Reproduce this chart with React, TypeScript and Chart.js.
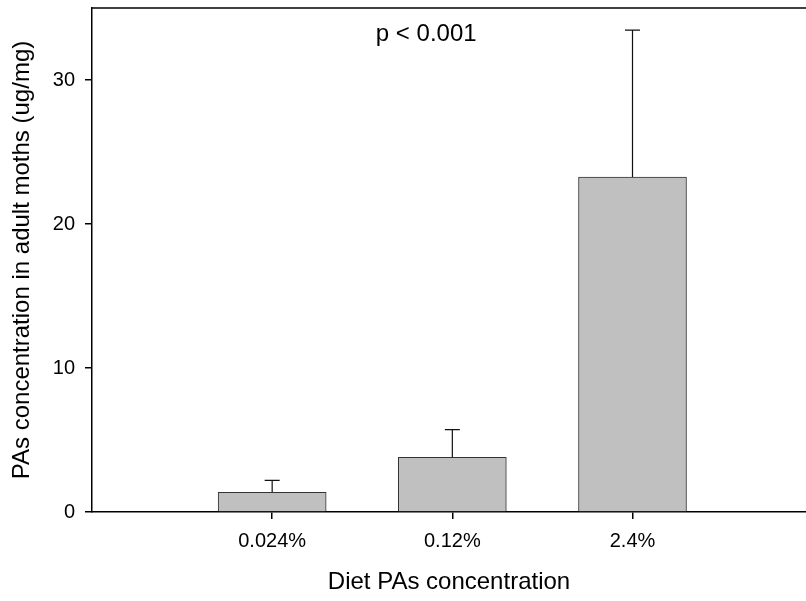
import React, { useEffect, useRef } from 'react';
import { Chart, registerables } from 'chart.js';

Chart.register(...registerables);

// ---- data ----
const categories = ['0.024%', '0.12%', '2.4%'];
const categoryPositions = [1, 2, 3];
const means = [1.37, 3.8, 23.26];
const upperErrors = [0.83, 1.92, 10.21];
const yTicks = [0, 10, 20, 30];
const yMin = 0;
const yMax = 35;
const xMin = 0;
const xMax = 3.963;
const annotationText = 'p < 0.001';
const annotationX = 1.855;
const annotationY = 32.7;

const FONT = '"Liberation Sans", Arial, Helvetica, sans-serif';

const errorBarPlugin = {
  id: 'errorBars',
  afterDatasetsDraw(chart: any) {
    const meta = chart.getDatasetMeta(0);
    const yScale = chart.scales.y;
    const ctx = chart.ctx;
    ctx.save();
    ctx.strokeStyle = '#111';
    ctx.lineWidth = 1.2;
    meta.data.forEach((bar: any, i: number) => {
      const top = yScale.getPixelForValue(means[i] + upperErrors[i]);
      const x = bar.x;
      ctx.beginPath();
      ctx.moveTo(x, bar.y);
      ctx.lineTo(x, top);
      ctx.moveTo(x - 7.5, top);
      ctx.lineTo(x + 7.5, top);
      ctx.stroke();
    });
    ctx.restore();
  },
};

const frameAndTextPlugin = {
  id: 'frameAndText',
  afterDraw(chart: any) {
    const { ctx, chartArea, scales } = chart;
    ctx.save();
    ctx.strokeStyle = '#000';
    ctx.lineWidth = 1.5;
    ctx.beginPath();
    ctx.moveTo(chartArea.left, chartArea.top);
    ctx.lineTo(chartArea.right, chartArea.top);
    ctx.stroke();
    ctx.fillStyle = '#000';
    ctx.font = `24px ${FONT}`;
    ctx.textAlign = 'center';
    ctx.textBaseline = 'alphabetic';
    ctx.fillText(
      annotationText,
      scales.x.getPixelForValue(annotationX),
      scales.y.getPixelForValue(annotationY)
    );
    ctx.restore();
  },
};

export default function App() {
  const canvasRef = useRef<HTMLCanvasElement | null>(null);

  useEffect(() => {
    document.body.style.margin = '0';
    const canvas = canvasRef.current;
    if (!canvas) return;
    const chart = new Chart(canvas, {
      type: 'bar',
      data: {
        datasets: [
          {
            data: categoryPositions.map((x, i) => ({ x, y: means[i] })),
            backgroundColor: '#c0c0c0',
            borderColor: '#333333',
            borderWidth: 1,
            barThickness: 108,
          },
        ],
      },
      options: {
        animation: false,
        responsive: false,
        maintainAspectRatio: false,
        layout: { padding: { top: 8, right: 0, bottom: 0, left: 0 } },
        plugins: {
          legend: { display: false },
          tooltip: { enabled: false },
          title: { display: false },
        },
        scales: {
          x: {
            type: 'linear',
            offset: false,
            min: xMin,
            max: xMax,
            afterBuildTicks: (scale: any) => {
              scale.ticks = categoryPositions.map((v) => ({ value: v }));
            },
            afterFit: (scale: any) => {
              scale.height = 89;
              scale.paddingLeft = 0;
              scale.paddingRight = 0;
            },
            ticks: {
              callback: (v: any) => {
                const idx = categoryPositions.indexOf(Number(v));
                return idx >= 0 ? categories[idx] : '';
              },
              font: { family: FONT, size: 20 },
              color: '#000',
              padding: 10,
              maxRotation: 0,
              autoSkip: false,
            },
            grid: {
              display: true,
              offset: false,
              drawOnChartArea: false,
              drawTicks: true,
              tickLength: 7,
              color: '#000',
              lineWidth: 1.5,
            },
            border: { display: true, color: '#000', width: 1.5 },
            title: {
              display: true,
              text: 'Diet PAs concentration',
              font: { family: FONT, size: 24 },
              color: '#000',
              padding: { top: 0, bottom: 4 },
            },
          },
          y: {
            type: 'linear',
            min: yMin,
            max: yMax,
            afterBuildTicks: (scale: any) => {
              scale.ticks = yTicks.map((v) => ({ value: v }));
            },
            afterFit: (scale: any) => {
              scale.width = 92;
              scale.paddingTop = 0;
              scale.paddingBottom = 0;
            },
            ticks: {
              font: { family: FONT, size: 20 },
              color: '#000',
              padding: 10,
            },
            grid: {
              display: true,
              drawOnChartArea: false,
              drawTicks: true,
              tickLength: 7,
              color: '#000',
              lineWidth: 1.5,
            },
            border: { display: true, color: '#000', width: 1.5 },
            title: {
              display: true,
              text: 'PAs concentration in adult moths (ug/mg)',
              font: { family: FONT, size: 24 },
              color: '#000',
              padding: { top: 8, bottom: 0 },
            },
          },
        },
      },
      plugins: [errorBarPlugin, frameAndTextPlugin],
    });
    return () => chart.destroy();
  }, []);

  return (
    <div style={{ position: 'absolute', left: 0, top: 0, width: 806, height: 601 }}>
      <canvas ref={canvasRef} width={806} height={601} style={{ display: 'block' }} />
    </div>
  );
}
